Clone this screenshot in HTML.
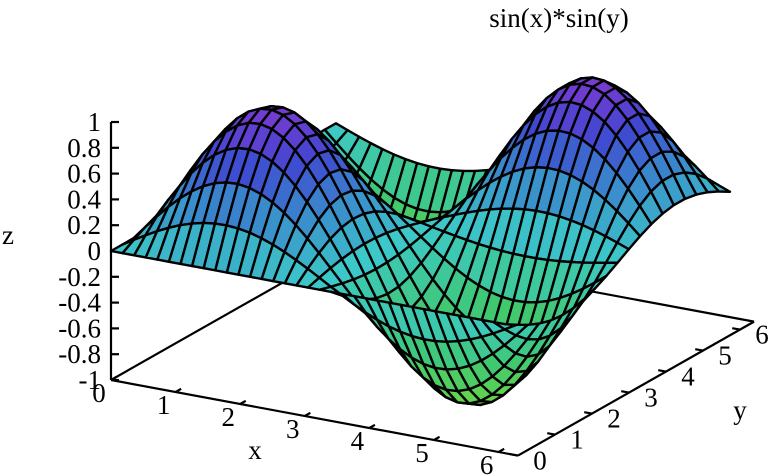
<!DOCTYPE html>
<html><head><meta charset="utf-8"><style>
html,body{margin:0;padding:0;background:#fff;}
svg{display:block;font-family:"Liberation Serif",serif;}
</style></head><body>
<svg id="chart" width="775" height="475" viewBox="0 0 775 475" xmlns="http://www.w3.org/2000/svg">
<text x="559" y="27" font-size="27" text-anchor="middle">sin(x)*sin(y)</text>
<g id="base"></g><g id="surf"></g><g id="labels"></g>
</svg>
<script>
const zTicks=[1,0.8,0.6,0.4,0.2,0,-0.2,-0.4,-0.6,-0.8,-1];
const zTickLabels=["1","0.8","0.6","0.4","0.2","0","-0.2","-0.4","-0.6","-0.8","-1"];
const xTicks=[0,1,2,3,4,5,6];
const yTicks=[0,1,2,3,4,5,6];
const xAxisRange=[0,6.3];
const yAxisRange=[0,6.38];
const xRange=[0,6.1];
const yRange=[0,6.08];
const zRange=[-1,1];
const nX=34, nY=20;
function f(x,y){return Math.sin(x)*Math.sin(y);}

const NS="http://www.w3.org/2000/svg";
function P(x,y,z){return [111+64.6*x+37*y, 251+12*x-21*y-129*z];}
function mk(t,a,par){const e=document.createElementNS(NS,t);for(const k in a)e.setAttribute(k,a[k]);par.appendChild(e);return e;}
const base=document.getElementById('base'),surf=document.getElementById('surf'),lab=document.getElementById('labels');
const AX0=xAxisRange[0],AX1=xAxisRange[1],AY0=yAxisRange[0],AY1=yAxisRange[1],ZB=zRange[0];
function line(a,b,par,name){const e=mk('line',{x1:a[0],y1:a[1],x2:b[0],y2:b[1],stroke:'#000','stroke-width':2.2},par);

return e;}
line(P(AX0,AY0,ZB),P(AX1,AY0,ZB),base,'x-axis');
line(P(AX1,AY0,ZB),P(AX1,AY1,ZB),base,'y-axis');
line(P(AX0,AY0,ZB),P(AX0,AY1,ZB),base,'base-border-left');
line(P(AX0,AY1,ZB),P(AX1,AY1,ZB),base,'base-border-back');
line(P(AX0,AY0,zRange[1]),P(AX0,AY0,ZB),base,'z-axis');
const stops=[[-1,[112,216,64]],[-0.5,[64,200,112]],[0,[60,200,200]],[0.4,[58,136,204]],[0.7,[63,72,208]],[1,[122,58,208]]];
function col(z){for(let i=1;i<stops.length;i++){if(z<=stops[i][0]){const a=stops[i-1],b=stops[i],t=(z-a[0])/(b[0]-a[0]);
return 'rgb('+a[1].map((v,k)=>Math.round(v+(b[1][k]-v)*t)).join(',')+')';}}return 'rgb(122,58,208)';}
const X0=xRange[0],X1=xRange[1],Y0=yRange[0],Y1=yRange[1];
const quads=[];
for(let i=0;i<nX;i++)for(let j=0;j<nY;j++){
 const xa=X0+(X1-X0)*i/nX,xb=X0+(X1-X0)*(i+1)/nX,ya=Y0+(Y1-Y0)*j/nY,yb=Y0+(Y1-Y0)*(j+1)/nY;
 const c=[[xa,ya],[xb,ya],[xb,yb],[xa,yb]];
 const zs=c.map(p=>f(p[0],p[1]));
 const xm=(xa+xb)/2,ym=(ya+yb)/2;
 quads.push({c,zs,d:12*xm-21*ym,zm:(zs[0]+zs[1]+zs[2]+zs[3])/4});
}
quads.sort((a,b)=>a.d-b.d);
quads.forEach((q,k)=>{
 const pts=q.c.map((p,m)=>P(p[0],p[1],q.zs[m]).map(v=>v.toFixed(2)).join(',')).join(' ');
 const e=mk('polygon',{points:pts,fill:col(q.zm),stroke:'#000','stroke-width':2.4,'stroke-linejoin':'round'},surf);
 
 
});
function txt(x,y,s,anchor,name){const e=mk('text',{x:x,y:y,'font-size':27,'text-anchor':anchor},lab);e.textContent=s;

}
zTicks.forEach((z,i)=>{const p=P(AX0,AY0,z);line(p,[p[0]+8,p[1]],base,'z-tick');txt(101,p[1]+9,zTickLabels[i],'end','z-tick-label');});
xTicks.forEach(x=>{const p=P(x,AY0,ZB),q=P(x,AY0+0.15,ZB);line(p,q,base,'x-tick');txt(p[0]-12,p[1]+22,String(x),'middle','x-tick-label');});
yTicks.forEach(y=>{const p=P(AX1,y,ZB),q=P(AX1-0.12,y,ZB);line(p,q,base,'y-tick');txt(p[0]+22,p[1]+14,String(y),'middle','y-tick-label');});
txt(8,244,'z','middle','z-axis-title');
txt(255,459,'x','middle','x-axis-title');
txt(740,419,'y','middle','y-axis-title');
</script>
</body></html>
